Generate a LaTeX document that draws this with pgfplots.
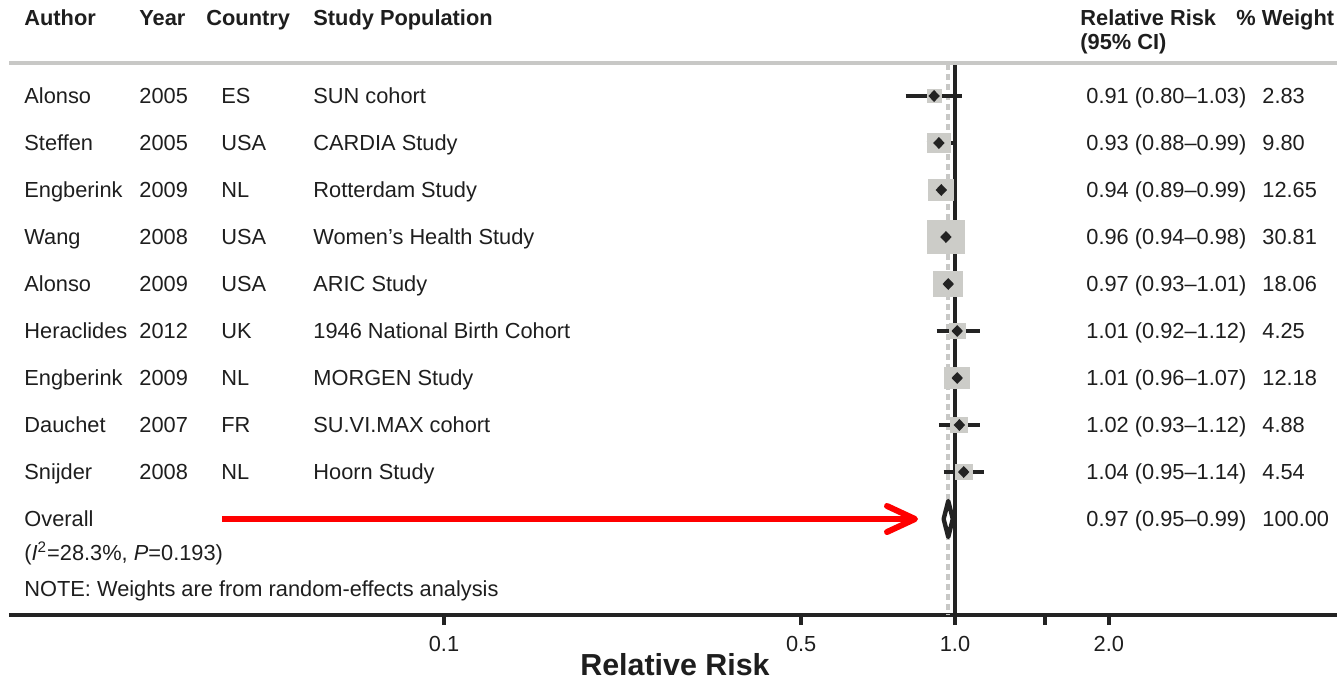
\documentclass[border=0pt]{standalone}
\usepackage{fontspec}
\setmainfont{Liberation Sans}
\usepackage{pgfplots}
\usepackage{pgfplotstable}
\pgfplotsset{compat=1.18}

\definecolor{txt}{RGB}{30,30,30}
\definecolor{ink}{RGB}{35,35,35}
\definecolor{boxgray}{RGB}{204,204,200}
\definecolor{refgray}{RGB}{200,200,198}
\definecolor{arrowred}{RGB}{255,0,0}

% weight box: a slightly flattened square
\pgfdeclareplotmark{wbox}{%
  \pgfpathrectangle{\pgfqpoint{-\pgfplotmarksize}{-0.87\pgfplotmarksize}}%
                   {\pgfqpoint{2\pgfplotmarksize}{1.74\pgfplotmarksize}}%
  \pgfusepathqfill}
% point estimate marker
\pgfdeclareplotmark{pdiam}{%
  \pgfpathmoveto{\pgfqpoint{0pt}{\pgfplotmarksize}}%
  \pgfpathlineto{\pgfqpoint{0.95\pgfplotmarksize}{0pt}}%
  \pgfpathlineto{\pgfqpoint{0pt}{-\pgfplotmarksize}}%
  \pgfpathlineto{\pgfqpoint{-0.95\pgfplotmarksize}{0pt}}%
  \pgfpathclose\pgfusepathqfill}

\newcommand\fs{\fontsize{10.9}{13}\selectfont}
\newcommand\T[3]{\node[anchor=base west, inner sep=0pt, text=txt, font=\fs] at (#1,{#2+7.8}) {#3};}
\newcommand\B[3]{\node[anchor=base west, inner sep=0pt, text=txt, font=\fs\bfseries] at (#1,{#2+7.8}) {#3};}

% row position (negative down), relative risk, 95% CI, weight
\pgfplotstableread{
row rr lo hi w
-96 0.91 0.80 1.03 2.83
-143 0.93 0.88 0.99 9.80
-190 0.94 0.89 0.99 12.65
-237 0.96 0.94 0.98 30.81
-284 0.97 0.93 1.01 18.06
-331 1.01 0.92 1.12 4.25
-378 1.01 0.96 1.07 12.18
-425 1.02 0.93 1.12 4.88
-472 1.04 0.95 1.14 4.54
}\studies

\begin{document}
\begin{tikzpicture}
\path[use as bounding box] (0pt,0pt) rectangle (668.5pt,-340pt);
\begin{axis}[
  at={(4.5pt,-307.5pt)}, anchor=south west,
  scale only axis, width=664pt, height=307.5pt,
  xmode=log, xmin=0.014083, xmax=5.5917,
  ymin=-615, ymax=0,
  axis x line=bottom, axis y line=none,
  x axis line style={-, line width=2.2pt, color=ink, line cap=butt},
  xtick={0.1,0.5,1,1.5,2}, xticklabels={0.1,0.5,1.0,,2.0},
  xminorticks=false,
  tick align=outside, major tick length=5pt,
  xtick style={line width=2.2pt, color=ink},
  xticklabel style={font=\fs, text=txt, yshift=-2pt},
  /pgf/number format/assume math mode=true,
  clip=false,
]
% reference lines: pooled estimate and no effect
\addplot[refgray, line width=2pt, dash pattern=on 3pt off 2pt] coordinates {(0.97,-64) (0.97,-615)};
\addplot[ink, line width=1.7pt] coordinates {(1,-64) (1,-615)};

% study weight boxes, area proportional to weight
\addplot[only marks, mark=wbox, boxgray, scatter,
  scatter/use mapped color={draw=boxgray, fill=boxgray},
  visualization depends on={(5+33*sqrt(\thisrow{w}/30.81))/4 \as \bs},
  scatter/@pre marker code/.append style={/tikz/mark size=\bs}]
  table[x=rr, y=row]{\studies};

% confidence intervals
\addplot[ink, line width=2.2pt] coordinates {(0.80,-96) (1.03,-96)};
\addplot[ink, line width=2.2pt] coordinates {(0.88,-143) (0.99,-143)};
\addplot[ink, line width=2.2pt] coordinates {(0.89,-190) (0.99,-190)};
\addplot[ink, line width=2.2pt] coordinates {(0.94,-237) (0.98,-237)};
\addplot[ink, line width=2.2pt] coordinates {(0.93,-284) (1.01,-284)};
\addplot[ink, line width=2.2pt] coordinates {(0.92,-331) (1.12,-331)};
\addplot[ink, line width=2.2pt] coordinates {(0.96,-378) (1.07,-378)};
\addplot[ink, line width=2.2pt] coordinates {(0.93,-425) (1.12,-425)};
\addplot[ink, line width=2.2pt] coordinates {(0.95,-472) (1.14,-472)};

% point estimates
\addplot[only marks, mark=pdiam, mark size=3pt, ink] table[x=rr, y=row]{\studies};

% pooled estimate 0.97 (0.95-0.99)
\addplot[ink, fill=white, line width=2.2pt, line join=round, line cap=round]
  coordinates {(0.95,-519) (0.97,-501) (0.99,-519) (0.97,-537) (0.95,-519)};
\end{axis}

\begin{scope}[x=0.5pt, y=-0.5pt]
\draw[refgray, line width=2pt] (9,63) -- (1337,63);

\B{24}{18}{Author}
\B{139}{18}{Year}
\B{206}{18}{Country}
\B{313}{18}{Study Population}
\B{1080}{18}{Relative Risk}
\B{1236}{18}{\% Weight}
\B{1080}{42}{(95\% CI)}

\T{24}{96}{Alonso}      \T{139}{96}{2005}  \T{221}{96}{ES}  \T{313}{96}{SUN cohort}
\T{24}{143}{Steffen}    \T{139}{143}{2005} \T{221}{143}{USA} \T{313}{143}{CARDIA Study}
\T{24}{190}{Engberink}  \T{139}{190}{2009} \T{221}{190}{NL}  \T{313}{190}{Rotterdam Study}
\T{24}{237}{Wang}       \T{139}{237}{2008} \T{221}{237}{USA} \T{313}{237}{Women’s Health Study}
\T{24}{284}{Alonso}     \T{139}{284}{2009} \T{221}{284}{USA} \T{313}{284}{ARIC Study}
\T{24}{331}{Heraclides} \T{139}{331}{2012} \T{221}{331}{UK}  \T{313}{331}{1946 National Birth Cohort}
\T{24}{378}{Engberink}  \T{139}{378}{2009} \T{221}{378}{NL}  \T{313}{378}{MORGEN Study}
\T{24}{425}{Dauchet}    \T{139}{425}{2007} \T{221}{425}{FR}  \T{313}{425}{SU.VI.MAX cohort}
\T{24}{472}{Snijder}    \T{139}{472}{2008} \T{221}{472}{NL}  \T{313}{472}{Hoorn Study}
\T{24}{519}{Overall}
\T{24}{553}{(\textit{I}\textsuperscript{2}=28.3\%, \textit{P}=0.193)}
\T{24}{589}{NOTE: Weights are from random-effects analysis}

\T{1086}{96}{0.91 (0.80–1.03)}  \T{1262}{96}{2.83}
\T{1086}{143}{0.93 (0.88–0.99)} \T{1262}{143}{9.80}
\T{1086}{190}{0.94 (0.89–0.99)} \T{1262}{190}{12.65}
\T{1086}{237}{0.96 (0.94–0.98)} \T{1262}{237}{30.81}
\T{1086}{284}{0.97 (0.93–1.01)} \T{1262}{284}{18.06}
\T{1086}{331}{1.01 (0.92–1.12)} \T{1262}{331}{4.25}
\T{1086}{378}{1.01 (0.96–1.07)} \T{1262}{378}{12.18}
\T{1086}{425}{1.02 (0.93–1.12)} \T{1262}{425}{4.88}
\T{1086}{472}{1.04 (0.95–1.14)} \T{1262}{472}{4.54}
\T{1086}{519}{0.97 (0.95–0.99)} \T{1262}{519}{100.00}

% pointer to the pooled estimate
\draw[arrowred, line width=3pt] (222,519) -- (912,519);
\draw[arrowred, line width=3pt, line cap=round, line join=round] (887,506) -- (915,519) -- (887,532);

\node[anchor=base, inner sep=0pt, text=txt, font=\bfseries\fontsize{15.2}{18}\selectfont] at (675,675) {Relative Risk};
\end{scope}
\end{tikzpicture}
\end{document}
